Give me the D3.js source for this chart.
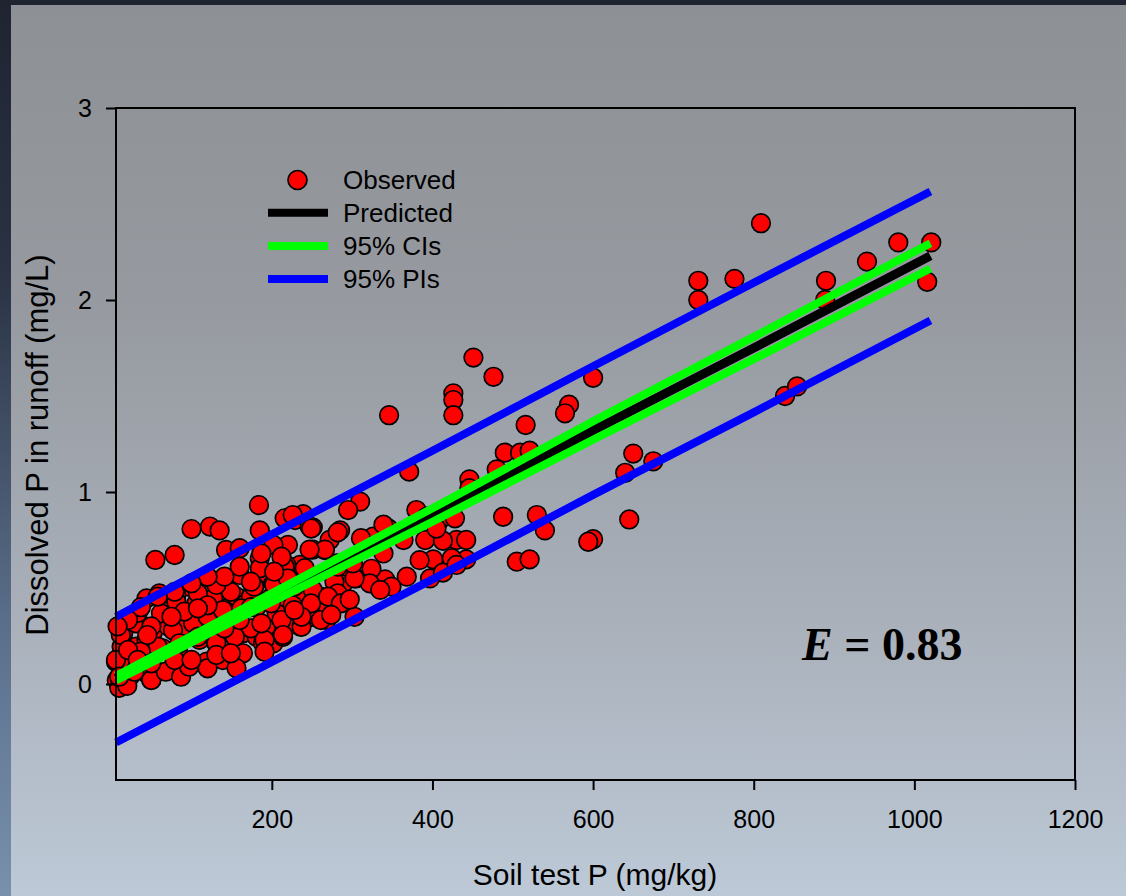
<!DOCTYPE html>
<html><head><meta charset="utf-8">
<script src="https://cdn.jsdelivr.net/npm/d3@7"></script>
<style>
html,body{margin:0;padding:0;background:#1e2430;}
svg{display:block;}
</style></head>
<body>
<script>
// ---------- data ----------
const obsX = [809,731,731,776,890,889,941,980,1021,1016,839,854,600,570,565,650,675,640,645,600,594,
451,476,426,426,426,346,516,490,509,521,371,480,446,446,310,295,488,530,540,285,380,345,326,505,521,442,430,442,391,413,401,368,341,305,324,339,418,
239,229,251,272,266,220,202,393,409,428,364,405,424,339,349,322,289,276,293,281,260,270,249,303,214,235,222,268,239,233,210,210,200,214,202,
184,100,123,135,185,55,79,143,160,185,216,226,247,251,235,218,193,160,135,110,96,81,60,44,31,15,6,7,17,50,87,83,110,131,119,35,31,64,52,71,89,102,121,143,152,164,181,193,206,181,156,127,106,85,69,35,23,44,73,98,139,164,156,189,214,239,235,218,202,177,168,23,44,13,11,10,20,
249,282,266,247,160,185,216,241,212,311,303,278,282,270,249,237,261,212,226,199,174,149,131,108,81,62,31,12,50,77,102,120,139,162,174,154,131,108,85,58,37,16,6,10,29,50,68,87,97,79,120,131,149,191,191,214,120,91,33,108,75,45,21,187,203,178,228,251,249,270,220,203,174,141,120,100,79,58,37,21,8,301,282,286,274,237,187,160,141,174,100,50,33,228,
397,413,430,384,335,297];
const obsY = [2.40,2.10,2.00,2.11,2.10,2.00,2.20,2.30,2.30,2.095,1.50,1.55,1.595,1.455,1.41,1.20,1.16,1.10,0.857,0.754,0.741,
1.70,1.60,1.514,1.479,1.40,1.40,1.349,1.205,1.205,1.215,1.106,1.118,1.066,1.02,0.95,0.906,0.871,0.88,0.80,0.80,0.906,0.81,0.767,0.637,0.649,0.649,0.75,0.75,0.75,0.746,0.649,0.559,0.545,0.55,0.60,0.83,0.88,
0.884,0.854,0.816,0.75,0.698,0.724,0.724,0.871,0.854,0.863,0.75,0.81,0.655,0.68,0.507,0.524,0.524,0.568,0.611,0.628,0.455,0.394,0.35,0.35,0.40,0.30,0.307,0.333,0.49,0.611,0.576,0.524,0.455,0.43,0.212,
0.932,0.807,0.82,0.80,0.80,0.646,0.672,0.698,0.707,0.655,0.863,0.88,0.82,0.70,0.62,0.62,0.576,0.568,0.524,0.54,0.507,0.464,0.472,0.446,0.36,0.264,0.116,0.02,0.003,0.02,0.047,0.177,0.23,0.212,0.116,0.142,0.194,0.186,0.272,0.30,0.30,0.368,0.40,0.394,0.316,0.264,0.246,0.30,0.368,0.40,0.455,0.446,0.42,0.385,0.377,0.316,0.09,0.056,0.073,0.108,0.125,0.16,0.082,0.212,0.246,0.333,0.472,0.49,0.524,0.49,0.42,0.038,0.23,0.194,0.116,-0.02,-0.01,
0.81,0.79,0.70,0.70,0.611,0.603,0.611,0.603,0.663,0.759,0.55,0.533,0.472,0.394,0.35,0.298,0.333,0.333,0.41,0.42,0.455,0.48,0.516,0.472,0.43,0.368,0.316,0.255,0.30,0.28,0.316,0.35,0.385,0.394,0.29,0.246,0.212,0.246,0.212,0.194,0.168,0.125,0.125,0.038,0.064,0.021,0.064,0.038,0.09,0.125,0.082,0.151,0.16,0.229,0.168,0.255,0.41,0.377,0.37,0.394,0.35,0.255,0.177,0.68,0.516,0.507,0.507,0.49,0.42,0.455,0.55,0.585,0.533,0.559,0.559,0.524,0.48,0.455,0.40,0.333,0.30,0.628,0.611,0.42,0.36,0.35,0.316,0.333,0.29,0.40,0.125,0.108,0.125,0.385,
0.55,0.58,0.62,0.645,0.49,0.44];

const lineX   = [6, 200, 400, 600, 800, 1020];
const predY   = [0.03, 0.45, 0.88, 1.32, 1.75, 2.23];
const ciUpper = [0.042, 0.472, 0.915, 1.368, 1.808, 2.296];
const ciLower = [0.018, 0.428, 0.845, 1.272, 1.692, 2.164];
const piUpper = [0.35, 0.78, 1.215, 1.655, 2.09, 2.565];
const piLower = [-0.305, 0.115, 0.545, 0.985, 1.415, 1.893];

const xTicks = [200, 400, 600, 800, 1000, 1200];
const yTicks = [0, 1, 2, 3];
const legendLabels = ["Observed", "Predicted", "95% CIs", "95% PIs"];
const xTitle = "Soil test P (mg/kg)";
const yTitle = "Dissolved P in runoff (mg/L)";

// ---------- drawing ----------
const SANS = '"Liberation Sans", Arial, sans-serif';
const SERIF = '"Liberation Serif", "Times New Roman", serif';
const W = 1126, H = 896;
const svg = d3.select("body").append("svg").attr("width", W).attr("height", H);
const defs = svg.append("defs");
const pg = defs.append("linearGradient").attr("id","panel").attr("x1",0).attr("y1",0).attr("x2",0).attr("y2",1);
[[0,"#8d9094"],[0.35,"#979ba1"],[0.7,"#aab1bb"],[1,"#bdc9d7"]].forEach(s=>pg.append("stop").attr("offset",s[0]).attr("stop-color",s[1]));
const lg = defs.append("linearGradient").attr("id","strip").attr("x1",0).attr("y1",0).attr("x2",0).attr("y2",1);
[[0,"#1f2430"],[0.3,"#2a3243"],[0.7,"#5b6f8b"],[1,"#7890ac"]].forEach(s=>lg.append("stop").attr("offset",s[0]).attr("stop-color",s[1]));

svg.append("rect").attr("width",W).attr("height",H).attr("fill","#1e2430");
svg.append("rect").attr("x",0).attr("y",0).attr("width",11).attr("height",H).attr("fill","url(#strip)");
svg.append("rect").attr("x",11).attr("y",5).attr("width",W-11).attr("height",H-5).attr("fill","url(#panel)");

const L = 116, R = 1075, T = 108, B = 780;
const x = d3.scaleLinear().domain([6, 1200]).range([L, R]);
const y = d3.scaleLinear().domain([-0.5, 3]).range([B, T]);

const plot = svg.append("g");
const pts = obsX.map((v,i)=>({x:v, y:obsY[i]}));
plot.selectAll("circle.obs").data(pts).join("circle").attr("class","obs")
  .attr("cx",d=>x(d.x)).attr("cy",d=>y(d.y)).attr("r",9.3)
  .attr("fill","#ff0000").attr("stroke","#000").attr("stroke-width",1.7);

const line = d3.line().x(d=>x(d[0])).y(d=>y(d[1]));
function drawLine(ys, color, w){
  plot.append("path").datum(lineX.map((v,i)=>[v, ys[i]])).attr("d", line)
    .attr("fill","none").attr("stroke",color).attr("stroke-width",w).attr("stroke-linecap","butt");
}
drawLine(piUpper, "#0000ff", 8);
drawLine(piLower, "#0000ff", 8);
drawLine(predY, "#000000", 9);
drawLine(ciUpper, "#00ff00", 8);
drawLine(ciLower, "#00ff00", 8);

// frame
svg.append("rect").attr("x",L).attr("y",T).attr("width",R-L).attr("height",B-T)
  .attr("fill","none").attr("stroke","#000").attr("stroke-width",2);

// axes
const xAxis = svg.append("g").attr("transform",`translate(0,${B})`)
  .call(d3.axisBottom(x).tickValues(xTicks).tickSize(10).tickSizeOuter(0).tickPadding(20).tickFormat(d3.format("d")));
const yAxis = svg.append("g").attr("transform",`translate(${L},0)`)
  .call(d3.axisLeft(y).tickValues(yTicks).tickSize(10).tickSizeOuter(0).tickPadding(14).tickFormat(d3.format("d")));
[xAxis,yAxis].forEach(a=>{
  a.select(".domain").remove();
  a.selectAll(".tick line").attr("stroke","#000").attr("stroke-width",2);
  a.selectAll(".tick text").style("font-family",SANS).style("font-size","25px").attr("fill","#000");
});

// titles
svg.append("text").attr("x",595).attr("y",885).attr("text-anchor","middle")
  .style("font-family",SANS).style("font-size","30px").attr("fill","#000").text(xTitle);
svg.append("text").attr("transform","translate(48,445) rotate(-90)").attr("text-anchor","middle")
  .style("font-family",SANS).style("font-size","31px").attr("fill","#000").text(yTitle);

// legend
const leg = svg.append("g");
leg.append("circle").attr("cx",297.5).attr("cy",180).attr("r",9.5).attr("fill","#ff0000").attr("stroke","#000").attr("stroke-width",1.7);
[["#000000",212.7],["#00ff00",246],["#0000ff",279]].forEach(s=>{
  leg.append("line").attr("x1",268).attr("x2",328).attr("y1",s[1]).attr("y2",s[1]).attr("stroke",s[0]).attr("stroke-width",8);
});
[189,222,254.5,288].forEach((yy,i)=>{
  leg.append("text").attr("x",343).attr("y",yy).style("font-family",SANS).style("font-size","26px").attr("fill","#000").text(legendLabels[i]);
});

// E label
const et = svg.append("text").attr("x",802).attr("y",660)
  .style("font-family",SERIF).style("font-size","46px").style("font-weight","bold").attr("fill","#000");
et.append("tspan").style("font-style","italic").text("E");
et.append("tspan").text(" = 0.83");
</script>
</body></html>
